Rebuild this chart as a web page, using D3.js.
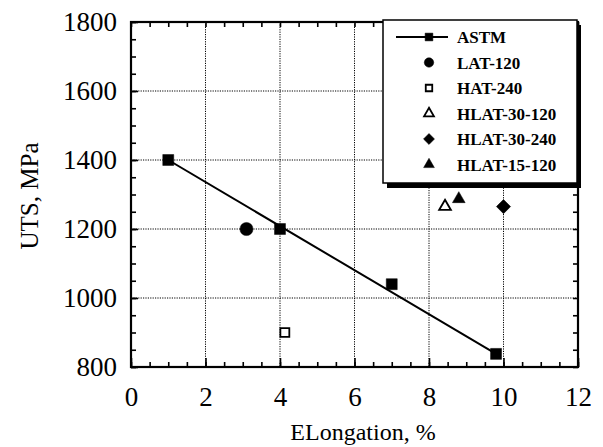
<html><head><script src="https://d3js.org/d3.v7.min.js"></script></head>
<body style="margin:0">
<svg id="chart" width="603" height="447"></svg>
<script>
    // values
    var astmX = [1, 4, 7, 9.8],
        astmY = [1400, 1200, 1040, 838];
    var fitX = [1, 9.8],
        fitY = [1400, 838];
    var series = ["LAT-120", "HAT-240", "HLAT-30-120", "HLAT-30-240", "HLAT-15-120"];
    var seriesX = [3.1, 4.13, 8.43, 10, 8.8],
        seriesY = [1200, 900, 1265, 1265, 1287];
    var xTicks = [0, 2, 4, 6, 8, 10, 12],
        yTicks = [800, 1000, 1200, 1400, 1600, 1800];

    var serif = "'Liberation Serif'";
    var margin = {top: 22, right: 25, bottom: 80, left: 131},
        width = 578 - margin.left,
        height = 367 - margin.top;

    var x = d3.scaleLinear().domain([0, 12]).range([0, width]),
        y = d3.scaleLinear().domain([800, 1800]).range([height, 0]);

    var svg = d3.select("#chart");
    svg.append("rect").attr("width", 603).attr("height", 447).attr("fill", "#fff");
    var g = svg.append("g").attr("transform", "translate(" + margin.left + "," + margin.top + ")");

    // dotted grid at the major ticks
    var grid = g.append("g").attr("stroke", "#000").attr("stroke-width", 1).attr("stroke-dasharray", "1.2,1.2");
    grid.selectAll(".gx").data(xTicks.slice(1, -1)).enter().append("line")
        .attr("x1", function(d) { return x(d); }).attr("x2", function(d) { return x(d); })
        .attr("y1", 0).attr("y2", height);
    grid.selectAll(".gy").data(yTicks.slice(1, -1)).enter().append("line")
        .attr("y1", function(d) { return y(d); }).attr("y2", function(d) { return y(d); })
        .attr("x1", 0).attr("x2", width);

    // axes: ticks point inward
    function styleAxis(sel) {
        sel.attr("font-family", serif).attr("font-size", 27);
        sel.select(".domain").remove();
        sel.selectAll("line").attr("stroke", "#000").attr("stroke-width", 1.6);
        sel.selectAll("text").attr("fill", "#000").attr("font-family", serif);
    }
    var minorX = d3.range(0, 12.01, 0.5), minorY = d3.range(800, 1801, 50);

    g.append("g").attr("transform", "translate(0," + height + ")")
        .call(d3.axisBottom(x).tickValues(minorX).tickSize(-5).tickFormat(""))
        .call(styleAxis);
    g.append("g").attr("transform", "translate(0," + height + ")")
        .call(d3.axisBottom(x).tickValues(xTicks).tickSize(-9).tickPadding(20).tickFormat(d3.format("d")))
        .call(styleAxis);
    g.append("g")
        .call(d3.axisTop(x).tickValues(minorX).tickSize(-5).tickFormat(""))
        .call(styleAxis);
    g.append("g")
        .call(d3.axisLeft(y).tickValues(minorY).tickSize(-5).tickFormat(""))
        .call(styleAxis);
    g.append("g")
        .call(d3.axisLeft(y).tickValues(yTicks).tickSize(-7).tickPadding(14).tickFormat(d3.format("d")))
        .call(styleAxis);
    g.append("g").attr("transform", "translate(" + width + ",0)")
        .call(d3.axisRight(y).tickValues(minorY).tickSize(-5).tickFormat(""))
        .call(styleAxis);

    g.append("rect").attr("width", width).attr("height", height)
        .attr("fill", "none").attr("stroke", "#000").attr("stroke-width", 2.2);

    // symbols
    var shapes = {
        "ASTM": {type: d3.symbolSquare, fill: "#000", size: 120, legSize: 60},
        "LAT-120": {type: d3.symbolCircle, fill: "#000", size: 135, legSize: 70},
        "HAT-240": {type: d3.symbolSquare, fill: "#fff", size: 80, legSize: 42},
        "HLAT-30-120": {type: d3.symbolTriangle, fill: "#fff", size: 60, legSize: 42},
        "HLAT-30-240": {type: d3.symbolSquare, fill: "#000", size: 100, legSize: 60, rot: 45},
        "HLAT-15-120": {type: d3.symbolTriangle, fill: "#000", size: 70, legSize: 50}
    };
    function drawSymbol(sel, name, cx, cy, legend) {
        var s = shapes[name];
        sel.append("path")
            .attr("d", d3.symbol().type(s.type).size(legend ? s.legSize : s.size)())
            .attr("transform", "translate(" + cx + "," + cy + ")" + (s.rot ? " rotate(" + s.rot + ")" : ""))
            .attr("fill", s.fill)
            .attr("stroke", "#000")
            .attr("stroke-width", s.fill === "#fff" ? 1.8 : 0.5);
    }

    // ASTM fit line + points
    var line = d3.line().x(function(d) { return x(d[0]); }).y(function(d) { return y(d[1]); });
    g.append("path").datum(d3.zip(fitX, fitY)).attr("d", line)
        .attr("fill", "none").attr("stroke", "#000").attr("stroke-width", 2);
    astmX.forEach(function(v, i) { drawSymbol(g, "ASTM", x(v), y(astmY[i]), false); });
    series.forEach(function(name, i) { drawSymbol(g, name, x(seriesX[i]), y(seriesY[i]), false); });

    // legend box with drop shadow
    var leg = svg.append("g").attr("transform", "translate(383,20)");
    leg.append("rect").attr("x", 4).attr("y", 5).attr("width", 194).attr("height", 163).attr("fill", "#000");
    leg.append("rect").attr("x", 0).attr("y", 0).attr("width", 194).attr("height", 163)
        .attr("fill", "#fff").attr("stroke", "#000").attr("stroke-width", 1.5);
    var names = ["ASTM"].concat(series);
    names.forEach(function(name, i) {
        var ly = 17 + i * 25.5;
        if (name === "ASTM") {
            leg.append("line").attr("x1", 13).attr("x2", 65).attr("y1", ly).attr("y2", ly)
                .attr("stroke", "#000").attr("stroke-width", 2);
        }
        drawSymbol(leg, name, 46, ly, true);
        leg.append("text").attr("x", 74).attr("y", ly + 6)
            .attr("font-family", serif).attr("font-weight", "bold").attr("font-size", 17)
            .text(name);
    });

    // axis titles
    svg.append("text").attr("x", 363).attr("y", 440).attr("text-anchor", "middle")
        .attr("font-family", serif).attr("font-size", 24).text("ELongation, %");
    svg.append("text").attr("transform", "translate(38,196) rotate(-90)").attr("text-anchor", "middle")
        .attr("font-family", serif).attr("font-size", 25).text("UTS, MPa");
</script></body></html>
